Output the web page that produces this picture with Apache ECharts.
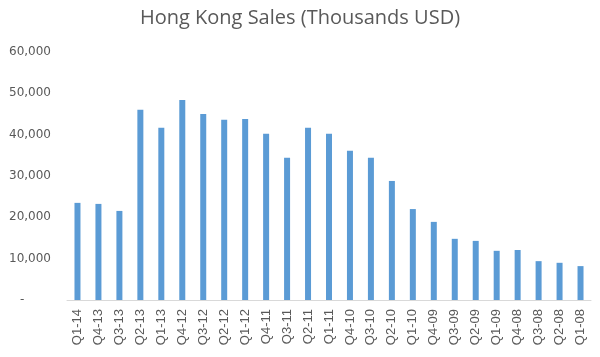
<!DOCTYPE html>
<html>
<head>
<meta charset="utf-8">
<script src="https://cdn.jsdelivr.net/npm/echarts@6/dist/echarts.min.js"></script>
<style>
html,body{margin:0;padding:0;background:#fff;}
#chart{width:600px;height:357px;}
</style>
</head>
<body>
<div id="chart"></div>
<script>
var titleText = 'Hong Kong Sales (Thousands USD)';
var categories = ['Q1-14','Q4-13','Q3-13','Q2-13','Q1-13','Q4-12','Q3-12','Q2-12','Q1-12','Q4-11','Q3-11','Q2-11','Q1-11','Q4-10','Q3-10','Q2-10','Q1-10','Q4-09','Q3-09','Q2-09','Q1-09','Q4-08','Q3-08','Q2-08','Q1-08'];
var sales = [23500,23250,21550,46000,41650,48400,45000,43600,43800,40200,34400,41650,40200,36100,34400,28800,22000,18900,14800,14300,11900,12100,9400,9000,8200];
var yTicks = [0,10000,20000,30000,40000,50000,60000];

var chart = echarts.init(document.getElementById('chart'));
chart.setOption({
  animation: false,
  title: {
    text: titleText,
    left: 'center',
    top: 3,
    textStyle: {fontFamily: 'Open Sans', fontSize: 20, fontWeight: 'normal', color: '#595959'}
  },
  grid: {left: 67, right: 9, top: 52, bottom: 57},
  xAxis: {
    type: 'category',
    data: categories,
    axisLine: {lineStyle: {color: '#d9d9d9', width: 1}},
    axisTick: {show: false},
    axisLabel: {rotate: 90, fontFamily: 'Liberation Sans', fontSize: 13, color: '#595959', margin: 9, interval: 0}
  },
  yAxis: {
    type: 'value',
    min: yTicks[0],
    max: yTicks[yTicks.length - 1],
    interval: 10000,
    splitLine: {show: false},
    axisLine: {show: false},
    axisTick: {show: false},
    axisLabel: {
      fontFamily: 'DejaVu Sans', fontSize: 12, color: '#595959', margin: 16,
      formatter: function (v) { return v === 0 ? '-       ' : v.toLocaleString('en-US'); }
    }
  },
  series: [{
    type: 'bar',
    data: sales,
    barWidth: 6,
    itemStyle: {color: '#5b9bd5'}
  }]
});
</script>
</body>
</html>
